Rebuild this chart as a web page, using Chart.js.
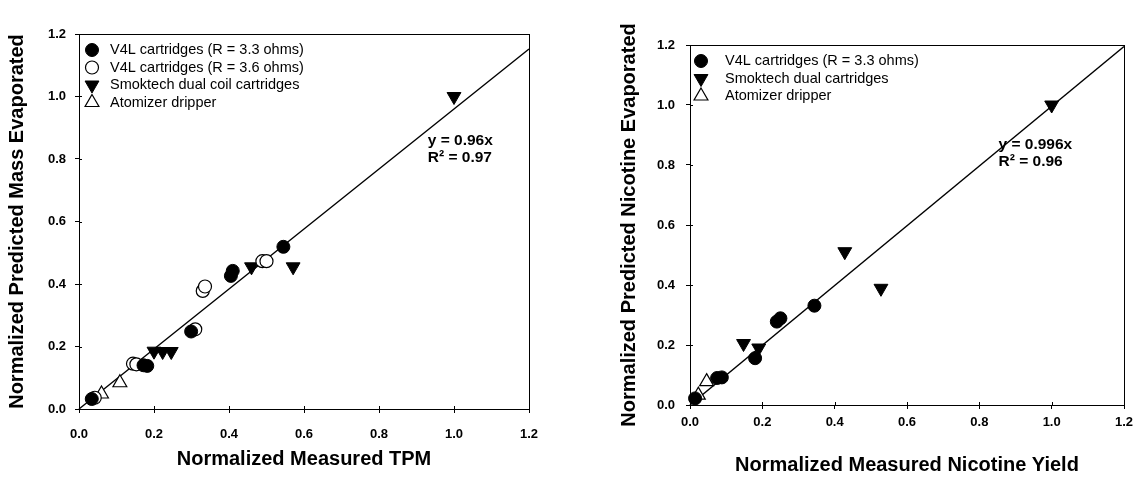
<!DOCTYPE html>
<html>
<head>
<meta charset="utf-8">
<script src="https://cdn.jsdelivr.net/npm/chart.js@4.4.0/dist/chart.umd.min.js"></script>
<style>
  body { margin: 0; background: #fff; }
  .panel { position: absolute; top: 0; height: 477px; }
  #left { left: 0; width: 571px; }
  #right { left: 571px; width: 572px; }
</style>
</head>
<body>
<div class="panel" id="left"><canvas id="tpmChart"></canvas></div>
<div class="panel" id="right"><canvas id="nicChart"></canvas></div>
<script>
// Left panel: predicted mass evaporated vs measured TPM
const v4l33TpmX = [0.034, 0.172, 0.182, 0.299, 0.405, 0.41, 0.545];
const v4l33MassY = [0.032, 0.14, 0.138, 0.248, 0.426, 0.442, 0.519];
const v4l36TpmX = [0.042, 0.144, 0.153, 0.31, 0.33, 0.336, 0.489, 0.5];
const v4l36MassY = [0.036, 0.145, 0.143, 0.255, 0.378, 0.392, 0.473, 0.473];
const smokTpmX = [0.2, 0.223, 0.246, 0.46, 0.571, 1.0];
const smokMassY = [0.185, 0.184, 0.184, 0.455, 0.455, 1.0];
const atomTpmX = [0.06, 0.109];
const atomMassY = [0.048, 0.084];
const fitTpmX = [0, 1.2];
const fitMassY = [0, 1.152];

// Right panel: predicted nicotine evaporated vs measured nicotine yield
const v4lNicX = [0.014, 0.075, 0.088, 0.18, 0.24, 0.25, 0.344];
const v4lNicY = [0.022, 0.09, 0.092, 0.156, 0.278, 0.289, 0.331];
const smokNicX = [0.148, 0.19, 0.428, 0.528, 1.0];
const smokNicY = [0.205, 0.19, 0.511, 0.389, 1.0];
const atomNicX = [0.023, 0.046];
const atomNicY = [0.033, 0.078];
const fitNicX = [0, 1.2];
const fitNicY = [0, 1.195];

const axisTicks = [0, 0.2, 0.4, 0.6, 0.8, 1.0, 1.2];

const FONT = "'Liberation Sans', Arial, sans-serif";
Chart.defaults.font.family = FONT;
Chart.defaults.color = "#000";

function pts(xs, ys) {
  return xs.map((x, i) => ({ x: x, y: ys[i] }));
}

function filledCircle(label, data) {
  return { label, data, pointStyle: "circle", pointRadius: 6.5, backgroundColor: "#000", borderColor: "#000", borderWidth: 1, clip: false };
}
function openCircle(label, data) {
  return { label, data, pointStyle: "circle", pointRadius: 6.5, backgroundColor: "#fff", borderColor: "#000", borderWidth: 1.2, clip: false };
}
function downTriangle(label, data) {
  return { label, data, pointStyle: "triangle", rotation: 180, pointRadius: 8, backgroundColor: "#000", borderColor: "#000", borderWidth: 1, clip: false };
}
function openTriangle(label, data) {
  return { label, data, pointStyle: "triangle", pointRadius: 8, backgroundColor: "#fff", borderColor: "#000", borderWidth: 1.2, clip: false };
}
function fitLine(data) {
  return { type: "line", label: "fit", data, showLine: true, pointRadius: 0, borderColor: "#000", borderWidth: 1.5, fill: false, noLegend: true, clip: false };
}

// frame, inner tick halves, legend and the equation text
const boxPlugin = {
  id: "box",
  afterDatasetsDraw(chart, args, opts) {
    const { ctx, chartArea: a, scales } = chart;
    ctx.save();
    ctx.strokeStyle = "#000";
    ctx.lineWidth = 1;
    ctx.strokeRect(Math.round(a.left) + 0.5, Math.round(a.top) + 0.5, Math.round(a.right - a.left), Math.round(a.bottom - a.top));
    ctx.beginPath();
    scales.x.ticks.forEach((t) => {
      const px = Math.round(scales.x.getPixelForValue(t.value)) + 0.5;
      ctx.moveTo(px, a.bottom);
      ctx.lineTo(px, a.bottom - 3);
    });
    scales.y.ticks.forEach((t) => {
      const py = Math.round(scales.y.getPixelForValue(t.value)) + 0.5;
      ctx.moveTo(a.left, py);
      ctx.lineTo(a.left + 3, py);
    });
    ctx.stroke();

    // legend
    ctx.font = "14.5px " + FONT;
    ctx.textBaseline = "middle";
    ctx.textAlign = "left";
    let row = 0;
    chart.data.datasets.forEach((ds) => {
      if (ds.noLegend) return;
      const y = opts.legendY + row * opts.legendDy;
      ctx.fillStyle = ds.backgroundColor;
      ctx.strokeStyle = ds.borderColor;
      ctx.lineWidth = ds.borderWidth;
      Chart.helpers.drawPoint(ctx, { pointStyle: ds.pointStyle, rotation: ds.rotation || 0, radius: ds.pointRadius, borderWidth: ds.borderWidth }, opts.legendX, y);
      ctx.fillStyle = "#000";
      ctx.fillText(ds.label, opts.legendTextX, y);
      row++;
    });

    // regression text
    ctx.font = "bold 15.5px " + FONT;
    const ex = scales.x.getPixelForValue(opts.eqAt[0]);
    const ey = scales.y.getPixelForValue(opts.eqAt[1]);
    opts.eqLines.forEach((line, i) => ctx.fillText(line, ex, ey + i * 17));
    ctx.restore();
  },
};

function makeChart(id, datasets, cfg) {
  return new Chart(document.getElementById(id), {
    type: "scatter",
    data: { datasets },
    options: {
      responsive: true,
      maintainAspectRatio: false,
      animation: false,
      layout: { padding: { top: cfg.top, right: cfg.right, bottom: 0, left: 0 } },
      plugins: {
        legend: { display: false },
        tooltip: { enabled: false },
        box: cfg.box,
      },
      scales: {
        x: {
          type: "linear",
          min: 0,
          max: 1.2,
          afterBuildTicks: (s) => { s.ticks = axisTicks.map((v) => ({ value: v })); },
          ticks: { padding: cfg.xPad, color: "#000", autoSkip: false, font: { size: 13, weight: "bold" }, callback: (v) => v.toFixed(1) },
          grid: { drawOnChartArea: false, drawTicks: true, tickLength: 4, color: "#000" },
          border: { color: "#000" },
          title: { display: true, text: cfg.xTitle, color: "#000", font: { size: 20, weight: "bold" }, padding: { top: 0, bottom: cfg.xTitlePad } },
          afterFit: (s) => { s.height = cfg.xHeight; },
        },
        y: {
          type: "linear",
          min: 0,
          max: 1.2,
          afterBuildTicks: (s) => { s.ticks = axisTicks.map((v) => ({ value: v })); },
          ticks: { padding: cfg.yPad, color: "#000", autoSkip: false, font: { size: 13, weight: "bold" }, callback: (v) => v.toFixed(1) },
          grid: { drawOnChartArea: false, drawTicks: true, tickLength: 4, color: "#000" },
          border: { color: "#000" },
          title: { display: true, text: cfg.yTitle, color: "#000", font: { size: 20, weight: "bold" }, padding: { top: cfg.yTitlePad, bottom: 0 } },
          afterFit: (s) => { s.width = cfg.yWidth; },
        },
      },
    },
    plugins: [boxPlugin],
  });
}

makeChart(
  "tpmChart",
  [
    filledCircle("V4L cartridges (R = 3.3 ohms)", pts(v4l33TpmX, v4l33MassY)),
    openCircle("V4L cartridges (R = 3.6 ohms)", pts(v4l36TpmX, v4l36MassY)),
    downTriangle("Smoktech dual coil cartridges", pts(smokTpmX, smokMassY)),
    openTriangle("Atomizer dripper", pts(atomTpmX, atomMassY)),
    fitLine(pts(fitTpmX, fitMassY)),
  ],
  {
    top: 34, right: 42, xHeight: 68, yWidth: 79,
    xPad: 14, yPad: 9, xTitlePad: 6, yTitlePad: 5,
    xTitle: "Normalized Measured TPM",
    yTitle: "Normalized Predicted Mass Evaporated",
    box: { legendX: 92, legendTextX: 110, legendY: 50, legendDy: 17.5, eqAt: [0.93, 0.857], eqLines: ["y = 0.96x", "R² = 0.97"] },
  }
);

makeChart(
  "nicChart",
  [
    filledCircle("V4L cartridges (R = 3.3 ohms)", pts(v4lNicX, v4lNicY)),
    downTriangle("Smoktech dual cartridges", pts(smokNicX, smokNicY)),
    openTriangle("Atomizer dripper", pts(atomNicX, atomNicY)),
    fitLine(pts(fitNicX, fitNicY)),
  ],
  {
    top: 45, right: 19, xHeight: 72, yWidth: 119,
    xPad: 6, yPad: 11, xTitlePad: 0, yTitlePad: 46,
    xTitle: "Normalized Measured Nicotine Yield",
    yTitle: "Normalized Predicted Nicotine Evaporated",
    box: { legendX: 130, legendTextX: 154, legendY: 61, legendDy: 17.5, eqAt: [0.853, 0.867], eqLines: ["y = 0.996x", "R² = 0.96"] },
  }
);
</script>
</body>
</html>
